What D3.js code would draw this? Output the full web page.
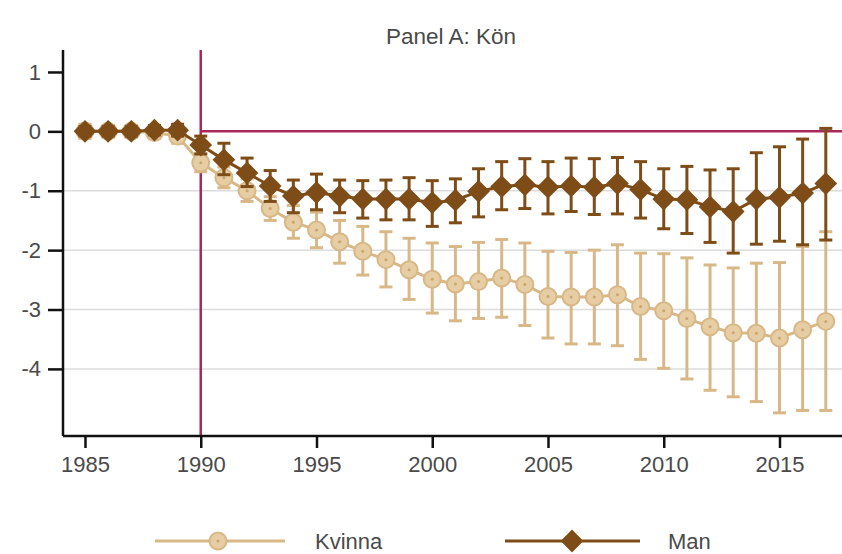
<!DOCTYPE html>
<html lang="sv">
<head>
<meta charset="utf-8">
<script src="https://d3js.org/d3.v7.min.js"></script>
<style>
  body { margin: 0; background: #fff; }
  text { font-family: "Liberation Sans", Arial, sans-serif; fill: #4a4a4a; }
</style>
</head>
<body>
<svg width="842" height="554"></svg>
<script>
// years and estimates
var years = d3.range(1985, 2018);

var kvinnaEst = [0, 0, 0, -0.02, -0.08, -0.53, -0.78, -1.0, -1.3, -1.53, -1.66, -1.86, -2.02, -2.16, -2.33,
  -2.49, -2.57, -2.53, -2.47, -2.58, -2.78, -2.79, -2.79, -2.75, -2.95, -3.02, -3.15, -3.29, -3.39, -3.4,
  -3.48, -3.34, -3.2];
var kvinnaLo = [-0.12, -0.1, -0.1, -0.12, -0.2, -0.68, -0.95, -1.18, -1.5, -1.8, -1.96, -2.22, -2.42, -2.62, -2.83,
  -3.06, -3.19, -3.15, -3.13, -3.27, -3.48, -3.58, -3.58, -3.61, -3.84, -3.99, -4.17, -4.36, -4.47, -4.55,
  -4.74, -4.7, -4.7];
var kvinnaHi = [0.12, 0.1, 0.1, 0.08, 0.04, -0.38, -0.6, -0.8, -1.1, -1.25, -1.36, -1.5, -1.6, -1.69, -1.8,
  -1.88, -1.94, -1.87, -1.82, -1.88, -2.02, -2.04, -2.0, -1.91, -2.05, -2.06, -2.13, -2.25, -2.3, -2.22,
  -2.21, -1.94, -1.69];

var manEst = [0, 0, 0, 0.02, 0.02, -0.23, -0.48, -0.7, -0.92, -1.09, -1.03, -1.09, -1.14, -1.14, -1.14,
  -1.2, -1.16, -1.01, -0.93, -0.9, -0.94, -0.92, -0.94, -0.88, -0.98, -1.14, -1.15, -1.27, -1.35, -1.14,
  -1.11, -1.04, -0.88];
var manLo = [-0.08, -0.08, -0.08, -0.06, -0.08, -0.38, -0.73, -0.93, -1.18, -1.37, -1.32, -1.37, -1.46, -1.49, -1.49,
  -1.6, -1.54, -1.44, -1.32, -1.3, -1.39, -1.35, -1.4, -1.39, -1.46, -1.64, -1.72, -1.87, -2.05, -1.9,
  -1.85, -1.91, -1.83];
var manHi = [0.08, 0.08, 0.08, 0.1, 0.12, -0.08, -0.2, -0.45, -0.66, -0.82, -0.72, -0.82, -0.83, -0.82, -0.78,
  -0.83, -0.8, -0.63, -0.51, -0.46, -0.51, -0.45, -0.46, -0.44, -0.51, -0.63, -0.59, -0.65, -0.63, -0.36,
  -0.26, -0.13, 0.05];

var yTicks = [1, 0, -1, -2, -3, -4];
var yGrid = [-1, -2, -3, -4];
var xTicks = [1985, 1990, 1995, 2000, 2005, 2010, 2015];
var reformYear = 1990;

var kvinnaColor = "#d8b887", manColor = "#7d4c17", redLine = "#a8285a";
var fontSize = "22px";

var svg = d3.select("svg");

var x = d3.scaleLinear().domain([1984.05, 2017.7]).range([63, 842]);
var y = d3.scaleLinear().domain([-5.13, 1.37]).range([436, 50]);

function rows(est, lo, hi) {
  return years.map(function(yr, i) { return { year: yr, v: est[i], lo: lo[i], hi: hi[i] }; });
}
var kvinna = rows(kvinnaEst, kvinnaLo, kvinnaHi);
var man = rows(manEst, manLo, manHi);

// title
svg.append("text")
  .attr("x", 451).attr("y", 44)
  .attr("text-anchor", "middle")
  .style("font-size", "22.5px")
  .text("Panel A: Kön");

// grid
svg.append("g").selectAll("line")
  .data(yGrid).enter().append("line")
  .attr("x1", 63).attr("x2", 842)
  .attr("y1", function(d) { return y(d); })
  .attr("y2", function(d) { return y(d); })
  .attr("stroke", "#dcdcdc").attr("stroke-width", 1.5);

// reform lines
svg.append("line")
  .attr("x1", x(reformYear)).attr("x2", x(reformYear))
  .attr("y1", 50).attr("y2", 436)
  .attr("stroke", redLine).attr("stroke-width", 2.5);
svg.append("line")
  .attr("x1", x(reformYear)).attr("x2", 842)
  .attr("y1", y(0)).attr("y2", y(0))
  .attr("stroke", redLine).attr("stroke-width", 2.5);

// axes
var yAxis = d3.axisLeft(y).tickValues(yTicks).tickSize(15).tickPadding(7)
  .tickFormat(function(d) { return d < 0 ? "-" + Math.abs(d) : d; });
var gy = svg.append("g").attr("transform", "translate(63,0)").call(yAxis);
gy.select(".domain").attr("stroke", "#111").attr("stroke-width", 2.5).attr("d", "M0,50V436");
gy.selectAll(".tick line").attr("stroke", "#111").attr("stroke-width", 2.5);
gy.selectAll(".tick text").style("font-size", fontSize).attr("fill", "#4a4a4a");

var xAxis = d3.axisBottom(x).tickValues(xTicks).tickSize(12).tickPadding(8).tickFormat(d3.format("d"));
var gx = svg.append("g").attr("transform", "translate(0,436)").call(xAxis);
gx.select(".domain").attr("stroke", "#111").attr("stroke-width", 2.5).attr("d", "M63,0H842");
gx.selectAll(".tick line").attr("stroke", "#111").attr("stroke-width", 2.5);
gx.selectAll(".tick text").style("font-size", fontSize).attr("fill", "#4a4a4a");

var line = d3.line().x(function(d) { return x(d.year); }).y(function(d) { return y(d.v); });

function errorBars(data, color) {
  var g = svg.append("g").attr("stroke", color).attr("stroke-width", 3);
  g.selectAll(".bar").data(data).enter().append("line")
    .attr("x1", function(d) { return x(d.year); })
    .attr("x2", function(d) { return x(d.year); })
    .attr("y1", function(d) { return y(d.lo); })
    .attr("y2", function(d) { return y(d.hi); });
  g.selectAll(".capLo").data(data).enter().append("line")
    .attr("x1", function(d) { return x(d.year) - 6.5; })
    .attr("x2", function(d) { return x(d.year) + 6.5; })
    .attr("y1", function(d) { return y(d.lo); })
    .attr("y2", function(d) { return y(d.lo); });
  g.selectAll(".capHi").data(data).enter().append("line")
    .attr("x1", function(d) { return x(d.year) - 6.5; })
    .attr("x2", function(d) { return x(d.year) + 6.5; })
    .attr("y1", function(d) { return y(d.hi); })
    .attr("y2", function(d) { return y(d.hi); });
}

// Kvinna
errorBars(kvinna, kvinnaColor);
svg.append("path").datum(kvinna)
  .attr("d", line).attr("fill", "none")
  .attr("stroke", kvinnaColor).attr("stroke-width", 3);
var kDots = svg.append("g").selectAll("g").data(kvinna).enter().append("g")
  .attr("transform", function(d) { return "translate(" + x(d.year) + "," + y(d.v) + ")"; });
kDots.append("circle").attr("r", 8.5)
  .attr("fill", "#e6cda3").attr("stroke", kvinnaColor).attr("stroke-width", 2);
kDots.append("circle").attr("r", 1.5).attr("fill", "#caa56d");

// Man
errorBars(man, manColor);
svg.append("path").datum(man)
  .attr("d", line).attr("fill", "none")
  .attr("stroke", manColor).attr("stroke-width", 3);
var diamond = d3.symbol().type(d3.symbolDiamond2).size(330);
svg.append("g").selectAll("path").data(man).enter().append("path")
  .attr("d", diamond)
  .attr("transform", function(d) { return "translate(" + x(d.year) + "," + y(d.v) + ")"; })
  .attr("fill", manColor);

// legend
var legY = 541;
var leg = svg.append("g");
leg.append("line").attr("x1", 155).attr("x2", 285).attr("y1", legY).attr("y2", legY)
  .attr("stroke", kvinnaColor).attr("stroke-width", 3);
leg.append("circle").attr("cx", 218).attr("cy", legY).attr("r", 8.5)
  .attr("fill", "#e6cda3").attr("stroke", kvinnaColor).attr("stroke-width", 2);
leg.append("circle").attr("cx", 218).attr("cy", legY).attr("r", 1.5).attr("fill", "#caa56d");
leg.append("text").attr("x", 315).attr("y", legY + 8).style("font-size", fontSize).text("Kvinna");

leg.append("line").attr("x1", 505).attr("x2", 640).attr("y1", legY).attr("y2", legY)
  .attr("stroke", manColor).attr("stroke-width", 3);
leg.append("path").attr("d", diamond)
  .attr("transform", "translate(572," + legY + ")").attr("fill", manColor);
leg.append("text").attr("x", 668).attr("y", legY + 8).style("font-size", fontSize).text("Man");
</script>
</body>
</html>
